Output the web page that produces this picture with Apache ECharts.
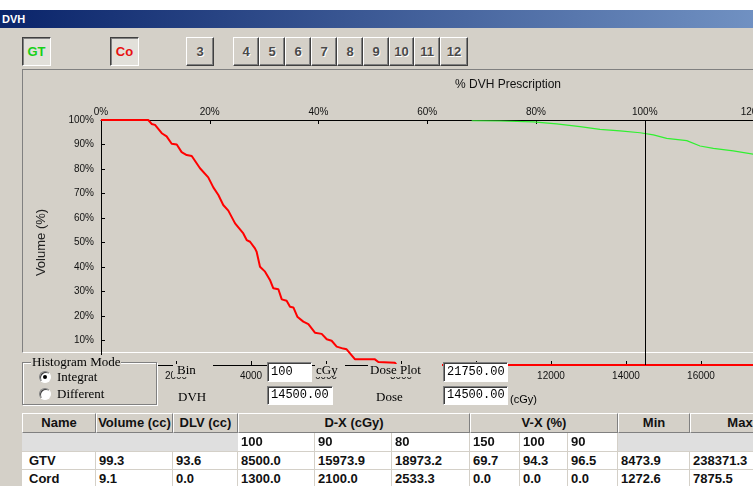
<!DOCTYPE html>
<html><head><meta charset="utf-8">
<script src="https://cdn.jsdelivr.net/npm/echarts/dist/echarts.min.js"></script>
<style>
html,body{margin:0;padding:0;width:753px;height:486px;overflow:hidden;background:#d4d0c8;}
#root{position:relative;width:753px;height:486px;overflow:hidden;background:#d4d0c8;font-family:'Liberation Sans',Arial,sans-serif;}
.a{position:absolute;box-sizing:border-box;}
#topwhite{left:0;top:0;width:753px;height:10px;background:#fff;}
#titlebar{left:0;top:10px;width:753px;height:18px;background:linear-gradient(to right,#0a246a 0px,#a6caf0 1150px);color:#fff;font:bold 11px 'Liberation Sans',Arial,sans-serif;line-height:18px;padding-left:2px;}
.btn{position:absolute;box-sizing:border-box;background:#d4d0c8;border:1px solid;border-color:#fff #404040 #404040 #fff;box-shadow:inset -1px -1px 0 #808080;font:bold 13px 'Liberation Sans',Arial,sans-serif;text-align:center;line-height:27px;color:#4a4a4a;text-shadow:1px 1px 0 #fff;height:29px;top:37px;}
.pressed{border-color:#404040 #fff #fff #404040;box-shadow:inset 1px 1px 0 #808080;background:#e2e0da;text-shadow:none;}
#panel{left:22px;top:69px;width:760px;height:284px;border-top:1px solid #808080;border-left:1px solid #808080;border-bottom:1px solid #fff;z-index:0;}
#chart{position:absolute;left:0;top:0;width:753px;height:486px;z-index:1;}
.ov{position:absolute;z-index:2;box-sizing:border-box;}
.serif{font:13px 'Liberation Serif','Times New Roman',serif;color:#000;line-height:14px;white-space:nowrap;}
.lbl{background:#d4d0c8;height:13px;line-height:12px;overflow:visible;}
.tb{background:#fff;border:1px solid;border-color:#808080 #fff #fff #808080;box-shadow:inset 1px 1px 0 #404040;font:12px 'Liberation Mono','DejaVu Sans Mono',monospace;color:#000;padding-left:3px;white-space:nowrap;}
.radio{width:12px;height:12px;border-radius:50%;background:#fff;border:1px solid;border-color:#808080 #fff #fff #808080;box-shadow:inset 1px 1px 0 #404040;}
.dot{position:absolute;left:3px;top:3px;width:4px;height:4px;border-radius:50%;background:#000;}
.cell{position:absolute;z-index:2;box-sizing:border-box;font:bold 13px 'Liberation Sans',Arial,sans-serif;color:#111;white-space:nowrap;overflow:hidden;}
.hd{background:#d4d0c8;border:1px solid;border-color:#fff #808080 #808080 #fff;text-align:center;}
.wc{background:#fff;border-right:1px solid #d4d0c8;border-bottom:1px solid #d4d0c8;padding-left:3px;}
.gc{background:#dfdfdf;border-bottom:1px solid #d4d0c8;}
</style></head>
<body><div id="root">
<div class="a" id="topwhite"></div>
<div class="a" id="titlebar">DVH</div>
<div id="buttons"></div>
<div class="a" id="panel"></div>
<div id="chart"></div>

<div class="ov" style="left:22px;top:357px;width:136px;height:49px;background:#d4d0c8;"></div>
<div class="ov" style="left:22px;top:362px;width:135px;height:43px;border:1px solid #808080;box-shadow:inset 1px 1px 0 #fff,1px 1px 0 #fff;"></div>
<div class="ov serif" style="left:31px;top:355px;background:#d4d0c8;padding:0 1px;">Histogram Mode</div>
<div class="ov radio" style="left:39px;top:371px;"><div class="dot"></div></div>
<div class="ov serif" style="left:57px;top:370px;">Integrat</div>
<div class="ov radio" style="left:39px;top:388px;"></div>
<div class="ov serif" style="left:57px;top:387px;">Different</div>

<div class="ov serif lbl" style="left:173px;top:364px;width:40px;padding-left:4px;">Bin</div>
<div class="ov tb" style="left:267px;top:362px;width:45px;height:20px;line-height:18px;">100</div>
<div class="ov serif lbl" style="left:315px;top:364px;width:30px;padding-left:1px;">cGy</div>
<div class="ov serif lbl" style="left:368px;top:364px;width:74px;padding-left:2px;">Dose Plot</div>
<div class="ov tb" style="left:443px;top:362px;width:65px;height:20px;line-height:18px;">21750.00</div>
<div class="ov serif" style="left:178px;top:390px;">DVH</div>
<div class="ov tb" style="left:267px;top:386px;width:66px;height:19px;line-height:17px;">14500.00</div>
<div class="ov serif" style="left:376px;top:390px;">Dose</div>
<div class="ov tb" style="left:443px;top:386px;width:65px;height:19px;line-height:17px;">14500.00</div>
<div class="ov" style="left:510px;top:393px;font:11px 'Liberation Sans',Arial,sans-serif;color:#000;">(cGy)</div>
<div id="table"></div>
</div>
<script>
// ---- data ----
const prescription = 14500;
const doseTicks = [0, 2000, 4000, 6000, 8000, 10000, 12000, 14000, 16000, 18000, 20000];
const cordDose = [0, 1260, 1350, 1440, 1620, 1750, 1885, 2020, 2150, 2285, 2420, 2640, 2860, 2995, 3130, 3260, 3395, 3575, 3795, 3885, 3975, 4105, 4150, 4240, 4375, 4505, 4595, 4730, 4820, 4950, 5040, 5130, 5235, 5395, 5530, 5705, 5885, 6020, 6150, 6285, 6460, 6550, 6775, 7305, 7395, 7840, 7885, 20000];
const cordVolume = [100, 100, 98.4, 98.0, 94.6, 93.3, 90.3, 90.0, 86.9, 85.7, 85.3, 80.3, 76.6, 72.5, 69.4, 65.3, 63.0, 57.8, 53.7, 51.0, 50.3, 47.6, 46.2, 40.1, 38.1, 34.7, 31.3, 30.9, 26.8, 26.2, 23.8, 23.5, 19.7, 17.7, 16.7, 13.2, 12.7, 10.5, 9.9, 7.5, 6.7, 6.4, 2.3, 2.3, 1.2, 0.9, 0, 0];
const gtvDose = [9885, 10640, 11530, 12150, 12775, 13305, 13840, 14375, 14730, 15085, 15620, 15975, 16330, 16860, 17390, 18975];
const gtvVolume = [99.7, 99.6, 99.2, 98.4, 97.3, 96.2, 95.6, 94.8, 93.9, 92.5, 91.6, 89.4, 88.4, 87.4, 86.1, 80.0];
const buttonLabels = ['GT', 'Co', '3', '4', '5', '6', '7', '8', '9', '10', '11', '12'];
const headerLabels = ['Name', 'Volume (cc)', 'DLV (cc)', 'D-X (cGy)', 'V-X (%)', 'Min', 'Max'];
const dxLevels = ['100', '90', '80'];
const vxLevels = ['150', '100', '90'];
const gtvRow = ['GTV', '99.3', '93.6', '8500.0', '15973.9', '18973.2', '69.7', '94.3', '96.5', '8473.9', '238371.3'];
const cordRow = ['Cord', '9.1', '0.0', '1300.0', '2100.0', '2533.3', '0.0', '0.0', '0.0', '1272.6', '7875.5'];

// ---- buttons (layout) ----
const btnBox = document.getElementById('buttons');
const btnLayout = [[22,29,'pressed','#18d018'],[110,29,'pressed','#e81010'],[186,28,'',''],[233,26,'',''],[259,26,'',''],[285,26,'',''],[311,26,'',''],[337,26,'',''],[363,26,'',''],[389,25,'',''],[414,26,'',''],[440,28,'','']];
buttonLabels.forEach((t,i)=>{
  const d=document.createElement('div');
  const L=btnLayout[i];
  d.className='btn '+L[2];
  d.style.left=L[0]+'px'; d.style.width=L[1]+'px';
  if(L[3]) d.style.color=L[3];
  d.textContent=t; btnBox.appendChild(d);
});

// ---- table (layout) ----
const tbl=document.getElementById('table');
const colX=[22,96,173,238,315,392,470,520,568,618,690,790];
const rowY=[413,433,452,470,489];
function cell(x0,x1,y0,y1,cls,text,extra){
  const d=document.createElement('div');
  d.className='cell '+cls;
  d.style.left=x0+'px'; d.style.top=y0+'px';
  d.style.width=(x1-x0)+'px'; d.style.height=(y1-y0)+'px';
  d.style.lineHeight=(y1-y0-(cls.indexOf('hd')>=0?2:1))+'px';
  if(extra) Object.assign(d.style,extra);
  d.textContent=text; tbl.appendChild(d);
}
const hdSpans=[[0,1],[1,2],[2,3],[3,6],[6,9],[9,10],[10,11]];
headerLabels.forEach((h,i)=>cell(colX[hdSpans[i][0]],colX[hdSpans[i][1]],rowY[0],rowY[1],'hd',h));
cell(colX[0],colX[3],rowY[1],rowY[2],'gc','');
dxLevels.concat(vxLevels).forEach((v,i)=>cell(colX[3+i],colX[4+i],rowY[1],rowY[2],'wc',v));
cell(colX[9],colX[11],rowY[1],rowY[2],'gc','');
[gtvRow,cordRow].forEach((row,r)=>{
  row.forEach((v,i)=>cell(colX[i],colX[i+1],rowY[2+r],rowY[3+r],'wc',v,i===0?{paddingLeft:'7px'}:null));
});

// ---- chart ----
const chart=echarts.init(document.getElementById('chart'),null,{renderer:'canvas'});
const axisFont={fontSize:10,color:'#111',fontFamily:"'Liberation Sans', Arial, sans-serif"};
chart.setOption({
  animation:false,
  backgroundColor:'transparent',
  graphic:[{type:'text',left:455,top:79,style:{text:'% DVH Prescription',font:"12px 'Liberation Sans', Arial, sans-serif",fill:'#111'}}],
  grid:{left:101,top:120,width:750,height:245,containLabel:false,outerBoundsMode:'none'},
  xAxis:[
    {type:'value',position:'bottom',min:doseTicks[0],max:doseTicks[doseTicks.length-1],interval:doseTicks[1]-doseTicks[0],
     axisLine:{onZero:false,lineStyle:{color:'#000',width:1}},
     axisTick:{inside:true,length:4,lineStyle:{color:'#000'}},
     axisLabel:Object.assign({margin:6,showMaxLabel:false,formatter:v=>String(v)},axisFont),
     splitLine:{show:false}},
    {type:'value',position:'top',min:0,max:doseTicks[doseTicks.length-1]/prescription*100,interval:20,
     axisLine:{onZero:false,lineStyle:{color:'#000',width:1}},
     axisTick:{inside:true,length:4,lineStyle:{color:'#000'}},
     axisLabel:Object.assign({margin:3,formatter:v=>String(Math.round(v))+'%',showMaxLabel:false},axisFont),
     splitLine:{show:false}}
  ],
  yAxis:{type:'value',min:0,max:100,interval:10,
     axisLine:{show:true,onZero:false,lineStyle:{color:'#000',width:1}},
     axisTick:{show:true,inside:true,length:4,lineStyle:{color:'#000'}},
     axisLabel:Object.assign({margin:7,formatter:v=>String(v)+'%'},axisFont),
     splitLine:{show:false},
     name:'Volume (%)',nameLocation:'middle',nameGap:53,nameRotate:90,
     nameTextStyle:{fontSize:13,color:'#222',fontFamily:"'Liberation Sans', Arial, sans-serif"}},
  series:[
    {name:'GTV',type:'line',xAxisIndex:0,showSymbol:false,clip:false,
     data:gtvDose.map((d,i)=>[d,gtvVolume[i]]),
     lineStyle:{color:'#30f030',width:1.2},
     markLine:{silent:true,symbol:['none','none'],label:{show:false},
       lineStyle:{color:'#000',width:1,type:'solid'},data:[{xAxis:prescription}]}},
    {name:'Cord',type:'line',xAxisIndex:0,showSymbol:false,clip:false,
     data:cordDose.map((d,i)=>[d,cordVolume[i]]),
     lineStyle:{color:'#ff0000',width:2}}
  ]
});
</script>
</body></html>
